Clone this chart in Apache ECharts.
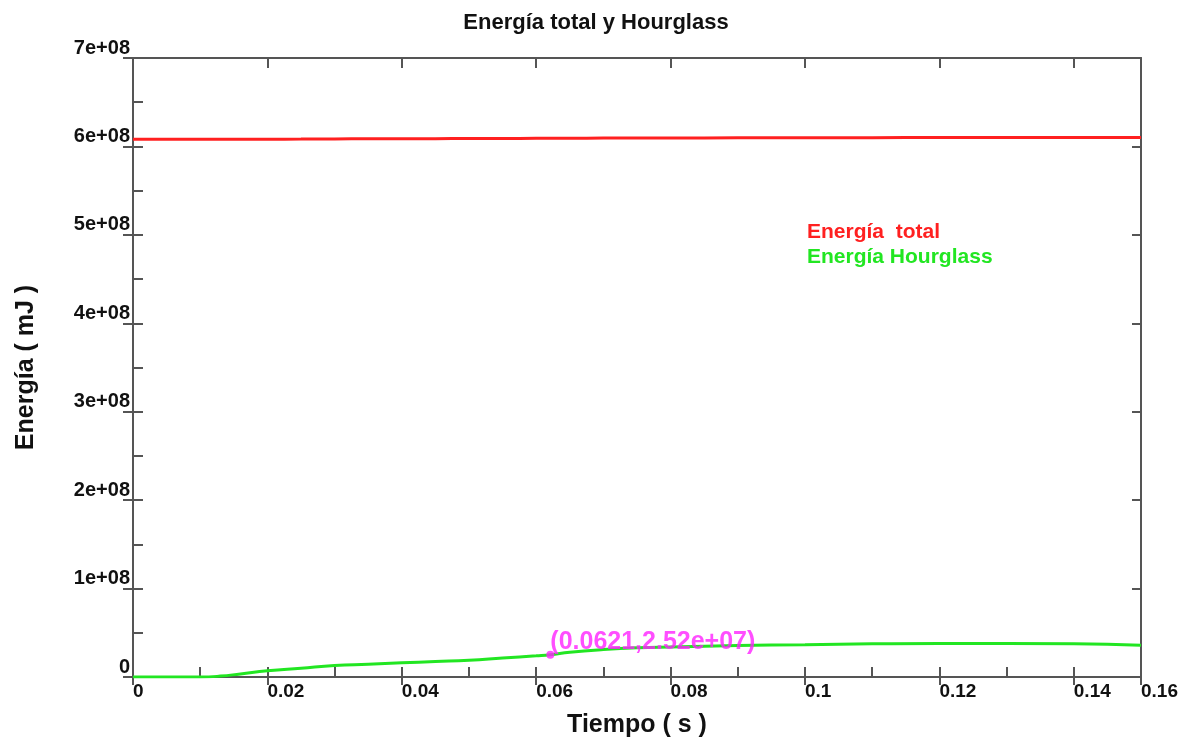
<!DOCTYPE html>
<html>
<head>
<meta charset="utf-8">
<script src="https://cdn.jsdelivr.net/npm/echarts@6/dist/echarts.min.js"></script>
<style>
  html, body { margin: 0; padding: 0; background: #fff; }
  #main { width: 1191px; height: 740px; }
</style>
</head>
<body>
<div id="main"></div>
<script>
// datos
var tiempo = [0, 0.005, 0.01, 0.013, 0.016, 0.02, 0.025, 0.03, 0.035, 0.04, 0.045, 0.05, 0.055, 0.06, 0.0621, 0.065, 0.07, 0.075, 0.08, 0.09, 0.1, 0.11, 0.12, 0.13, 0.14, 0.15];
var energiaTotal = [6.08e8, 6.08e8, 6.08e8, 6.08e8, 6.081e8, 6.082e8, 6.083e8, 6.085e8, 6.086e8, 6.087e8, 6.088e8, 6.09e8, 6.09e8, 6.092e8, 6.092e8, 6.093e8, 6.094e8, 6.095e8, 6.096e8, 6.097e8, 6.098e8, 6.099e8, 6.1e8, 6.1e8, 6.1e8, 6.1e8];
var energiaHourglass = [0, 0, 0, 0.1e7, 0.35e7, 0.7e7, 1.0e7, 1.3e7, 1.45e7, 1.6e7, 1.75e7, 1.9e7, 2.15e7, 2.4e7, 2.52e7, 2.8e7, 3.1e7, 3.3e7, 3.4e7, 3.55e7, 3.65e7, 3.75e7, 3.8e7, 3.8e7, 3.75e7, 3.6e7];
var punto = [0.0621, 2.52e7];
var etiquetaPunto = '(0.0621,2.52e+07)';
var xTickLabels = ['0', '0.02', '0.04', '0.06', '0.08', '0.1', '0.12', '0.14', '0.16'];
var yTickLabels = ['0', '1e+08', '2e+08', '3e+08', '4e+08', '5e+08', '6e+08', '7e+08'];
var nombres = ['Energía  total', 'Energía Hourglass'];

var fuente = '"Liberation Sans", Arial, sans-serif';
var gris = '#555';

function pares(xs, ys) {
  return xs.map(function (x, i) { return [x, ys[i]]; });
}

var ejeX = {
  type: 'value', min: 0, max: 0.15, interval: 0.02,
  axisLine: { show: true, onZero: false, lineStyle: { color: gris, width: 2 } },
  splitLine: { show: false }
};
var ejeY = {
  type: 'value', min: 0, max: 7e8, interval: 1e8,
  axisLine: { show: true, onZero: false, lineStyle: { color: gris, width: 2 } },
  splitLine: { show: false }
};

var option = {
  backgroundColor: '#fff',
  animation: false,
  title: {
    text: 'Energía total y Hourglass',
    left: 591, top: 7, textAlign: 'center',
    textStyle: { fontFamily: fuente, fontSize: 22, fontWeight: 'bold', color: '#111' }
  },
  legend: {
    data: [
      { name: nombres[0], textStyle: { color: '#ff2020' } },
      { name: nombres[1], textStyle: { color: '#22e622' } }
    ],
    orient: 'vertical', left: 796, top: 217, itemWidth: 0, itemHeight: 0, itemGap: 4,
    selectedMode: false,
    textStyle: { fontFamily: fuente, fontSize: 21, fontWeight: 'bold' }
  },
  grid: { left: 133, right: 50, top: 58, bottom: 63, containLabel: false, outerBoundsMode: 'none' },
  xAxis: [
    Object.assign({}, ejeX, {
      position: 'bottom',
      name: 'Tiempo ( s )', nameLocation: 'middle', nameGap: 36,
      nameTextStyle: { fontFamily: fuente, fontSize: 25, fontWeight: 'bold', color: '#111' },
      axisTick: { show: true, inside: true, length: 10, lineStyle: { color: gris, width: 2 } },
      minorTick: { show: true, splitNumber: 2, length: 10, lineStyle: { color: gris, width: 2 } },
      axisLabel: {
        show: true, showMaxLabel: true, align: 'left', margin: 5,
        fontFamily: fuente, fontSize: 19, fontWeight: 'bold', color: '#111',
        formatter: function (v) {
          if (v > 0.145) return xTickLabels[8];
          return xTickLabels[Math.round(v / 0.02)];
        }
      }
    }),
    Object.assign({}, ejeX, {
      position: 'bottom',
      axisLine: { show: false },
      axisTick: { show: true, inside: false, length: 8, lineStyle: { color: gris, width: 2 } },
      axisLabel: { show: false }
    }),
    Object.assign({}, ejeX, {
      position: 'top',
      axisTick: { show: true, inside: true, length: 10, lineStyle: { color: gris, width: 2 } },
      axisLabel: { show: false }
    })
  ],
  yAxis: [
    Object.assign({}, ejeY, {
      position: 'left',
      name: 'Energía ( mJ )', nameLocation: 'middle', nameGap: 94, nameRotate: 90,
      nameTextStyle: { fontFamily: fuente, fontSize: 25, fontWeight: 'bold', color: '#111' },
      axisTick: { show: true, inside: true, length: 10, lineStyle: { color: gris, width: 2 } },
      minorTick: { show: true, splitNumber: 2, length: 10, lineStyle: { color: gris, width: 2 } },
      axisLabel: {
        show: true, margin: 3, verticalAlign: 'bottom',
        fontFamily: fuente, fontSize: 20, fontWeight: 'bold', color: '#111',
        formatter: function (v) { return yTickLabels[Math.round(v / 1e8)]; }
      }
    }),
    Object.assign({}, ejeY, {
      position: 'left',
      axisLine: { show: false },
      axisTick: { show: true, inside: false, length: 10, lineStyle: { color: gris, width: 2 } },
      axisLabel: { show: false }
    }),
    Object.assign({}, ejeY, {
      position: 'right',
      axisTick: { show: true, inside: true, length: 9, lineStyle: { color: gris, width: 2 } },
      axisLabel: { show: false }
    })
  ],
  series: [
    {
      name: nombres[0], type: 'line', smooth: true, showSymbol: false,
      data: pares(tiempo, energiaTotal),
      itemStyle: { color: '#ff2020' },
      lineStyle: { color: '#ff2020', width: 3 }
    },
    {
      name: nombres[1], type: 'line', smooth: true, showSymbol: false,
      data: pares(tiempo, energiaHourglass),
      itemStyle: { color: '#22e622' },
      lineStyle: { color: '#22e622', width: 3 }
    },
    {
      name: 'punto', type: 'scatter', symbolSize: 8, z: 5,
      data: [punto],
      itemStyle: { color: '#ff22ff' },
      label: {
        show: true, position: 'right', offset: [-9, -13], formatter: etiquetaPunto,
        fontFamily: fuente, fontSize: 25, fontWeight: 'bold', color: '#ff22ff'
      }
    }
  ]
};

var chart = echarts.init(document.getElementById('main'));
chart.setOption(option);
</script>
</body>
</html>
